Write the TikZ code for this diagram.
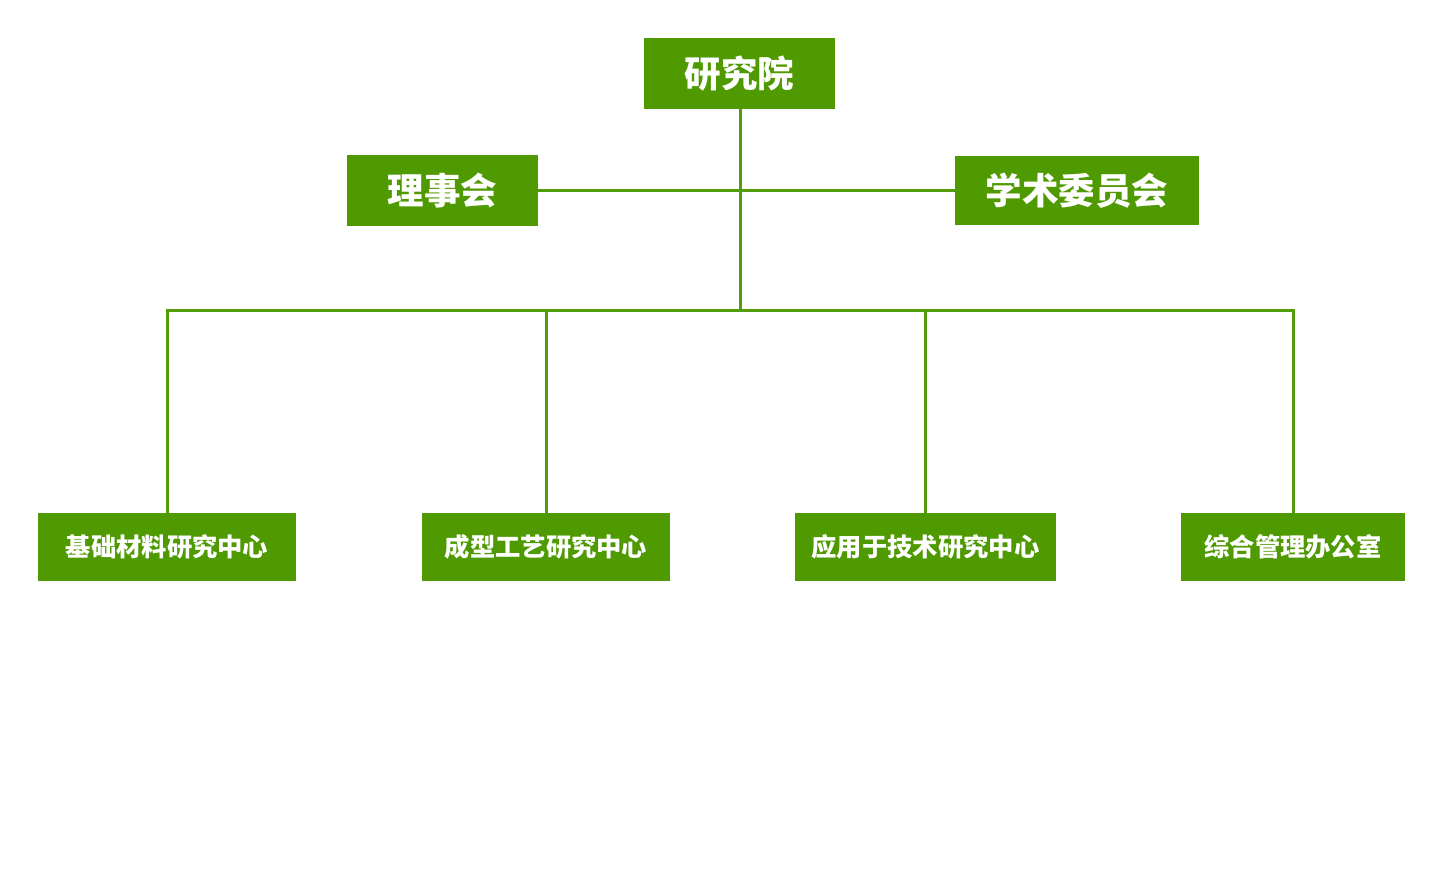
\documentclass[tikz,border=0pt]{standalone}
\usepackage{fontspec}
\newfontfamily\cjk{Noto Sans CJK SC}
\definecolor{boxgreen}{RGB}{78,154,0}
\definecolor{linegreen}{RGB}{82,156,10}
\begin{document}
\begin{tikzpicture}[x=1pt,y=-1pt,
  box/.style={fill=boxgreen,text=white,inner sep=0pt,font=\cjk\bfseries},
  topbox/.style={box,font=\cjk\bfseries\fontsize{36.5}{40}\selectfont},
  botbox/.style={box,minimum height=68pt,font=\cjk\bfseries\fontsize{25.3}{28}\selectfont},
  conn/.style={draw=linegreen,line width=3pt}]
\useasboundingbox (0,0) rectangle (1442,894);
\node[topbox,minimum width=191pt,minimum height=71pt] (root) at (739.5,73.5) {研究院};
\node[topbox,minimum width=191pt,minimum height=71pt] (board) at (442.5,190.5) {理事会};
\node[topbox,minimum width=244pt,minimum height=69pt] (acad) at (1077,190.5) {学术委员会};
\node[botbox,minimum width=258pt] (c1) at (167,547) {基础材料研究中心};
\node[botbox,minimum width=248pt] (c2) at (546,547) {成型工艺研究中心};
\node[botbox,minimum width=261pt] (c3) at (925.5,547) {应用于技术研究中心};
\node[botbox,minimum width=224pt] (c4) at (1293,547) {综合管理办公室};
\coordinate (bus) at (740,310);
\coordinate (mid) at (740,190);
\draw[conn] (root.south -| bus) -- (bus);
\draw[conn] (board.east) -- (board.east -| acad.west);
\draw[conn] (c1.north) |- (bus) -| (c4.north);
\draw[conn] (c2.north) -- (c2.north |- bus);
\draw[conn] (c3.north) -- (c3.north |- bus);
\end{tikzpicture}
\end{document}
